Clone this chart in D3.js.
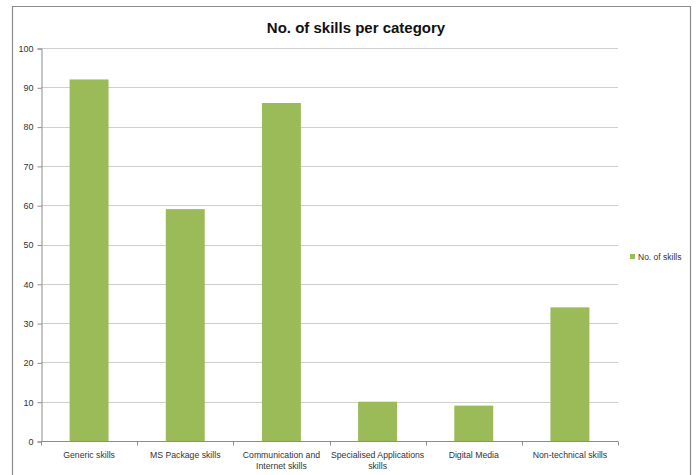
<!DOCTYPE html>
<html><head><meta charset="utf-8">
<script src="https://cdn.jsdelivr.net/npm/d3@7"></script>
<style>body{margin:0;background:#fff}svg{display:block}</style>
</head><body>
<script>
const categories = ["Generic skills","MS Package skills","Communication and Internet skills","Specialised Applications skills","Digital Media","Non-technical skills"];
const categoryLines = [["Generic skills"],["MS Package skills"],["Communication and","Internet skills"],["Specialised Applications","skills"],["Digital Media"],["Non-technical skills"]];
const values = [92,59,86,10,9,34];
const yTicks = [0,10,20,30,40,50,60,70,80,90,100];
const seriesName = "No. of skills";
const title = "No. of skills per category";

const W=696,H=475;
const svg=d3.select("body").append("svg").attr("width",W).attr("height",H);
const font="Liberation Sans, Arial, sans-serif";
svg.append("path").attr("d","M12.5,476 V6.5 H690.5 V476").attr("fill","none").attr("stroke","#8c8c8c").attr("stroke-width",1.2);

const x0=41,x1=618,yTop=48,yBot=441;
const x=d3.scaleBand().domain(categories).range([x0,x1]).paddingInner(0.595).paddingOuter(0.2975);
const y=d3.scaleLinear().domain([0,100]).range([yBot,yTop]);

const g=svg.append("g");
g.selectAll("line.grid").data(yTicks.slice(1)).join("line").attr("class","grid")
 .attr("x1",x0).attr("x2",x1).attr("y1",d=>Math.round(y(d))+0.5).attr("y2",d=>Math.round(y(d))+0.5)
 .attr("stroke","#cfcfcf").attr("stroke-width",1);

g.selectAll("rect").data(values).join("rect")
 .attr("x",(d,i)=>x(categories[i])).attr("width",x.bandwidth())
 .attr("y",d=>y(d)).attr("height",d=>y(0)-y(d)).attr("fill","#9BBB59");

const ya=d3.axisLeft(y).tickValues(yTicks).tickSize(4).tickPadding(4);
const yg=svg.append("g").attr("transform",`translate(${x0+0.5},0.5)`).call(ya);
yg.select(".domain").attr("stroke","#8c8c8c");
yg.selectAll(".tick line").attr("stroke","#8c8c8c");
yg.selectAll("text").attr("font-family",font).attr("font-size",9).attr("fill","#333");

const xg=svg.append("g").attr("transform",`translate(0,${yBot+0.5})`);
xg.append("line").attr("x1",x0).attr("x2",x1).attr("stroke","#8c8c8c");
const bounds=d3.range(categories.length+1).map(i=>x0+i*(x1-x0)/categories.length);
xg.selectAll("line.t").data(bounds).join("line").attr("class","t")
 .attr("x1",d=>Math.round(d)+0.5).attr("x2",d=>Math.round(d)+0.5).attr("y1",0).attr("y2",4).attr("stroke","#8c8c8c");
categories.forEach((c,i)=>{
  const cx=x(c)+x.bandwidth()/2;
  categoryLines[i].forEach((ln,j)=>{
    xg.append("text").attr("x",cx).attr("y",16+j*11.5).attr("text-anchor","middle")
      .attr("font-family",font).attr("font-size",8.7).attr("fill","#333").text(ln);
  });
});

svg.append("text").attr("x",356).attr("y",33).attr("text-anchor","middle")
 .attr("font-family",font).attr("font-weight","bold").attr("font-size",15).attr("fill","#111").text(title);

const lg=svg.append("g").attr("transform","translate(630,254)");
lg.append("rect").attr("width",5).attr("height",5).attr("fill","#9BBB59");
lg.append("text").attr("x",8).attr("y",5.5).attr("font-family",font).attr("font-size",8.5).attr("fill","#333").text(seriesName);
</script>
</body></html>
